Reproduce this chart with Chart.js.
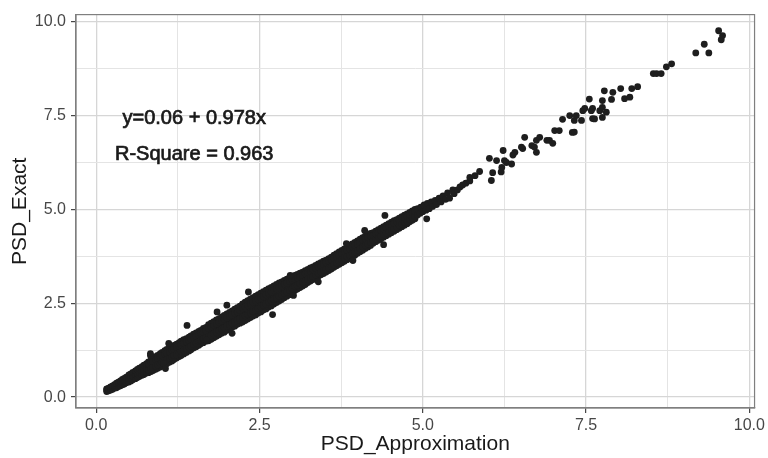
<!DOCTYPE html>
<html><head><meta charset="utf-8">
<script src="https://cdn.jsdelivr.net/npm/chart.js@4.4.1/dist/chart.umd.min.js"></script>
<style>html,body{margin:0;padding:0;background:#fff;}canvas{display:block;}</style>
</head><body>
<canvas id="c" width="768" height="458"></canvas>
<script>
// Dense band: approximation values with low / middle / high exact values
const bandX = [0.16,0.19,0.22,0.25,0.28,0.31,0.34,0.37,0.40,0.43,0.46,0.50,0.53,0.56,0.60,0.63,0.66,0.70,0.73,0.77,
0.80,0.84,0.87,0.91,0.94,0.98,1.01,1.05,1.08,1.12,1.16,1.19,
1.23,1.27,1.30,1.34,1.38,1.42,1.45,1.49,1.53,1.57,1.60,1.64,1.68,
1.72,1.76,1.80,1.84,1.88,1.92,1.96,2.00,2.04,2.08,2.12,2.16,2.20,
2.24,2.28,2.32,2.36,2.40,2.44,2.48,2.52,2.56,2.60,2.64,2.68,2.72,2.76,2.80,2.84,2.88,2.92,2.96,3.00,
3.04,3.08,3.12,3.16,3.20,3.24,3.28,3.32,3.36,3.40,3.44,3.48,3.52,3.56,3.60,
3.64,3.68,3.72,3.76,3.80,3.84,3.88,3.92,3.96,4.00,4.04,4.08,4.12,4.16,4.20,
4.24,4.28,4.32,4.36,4.40,4.44,4.48,4.52,4.56,4.60,4.64,4.68,4.72,4.76,4.80,4.84,4.88];
const bandLow = [0.15,0.17,0.19,0.21,0.24,0.25,0.28,0.30,0.33,0.35,0.38,0.40,0.43,0.46,0.49,0.52,0.55,0.58,0.60,0.64,
0.65,0.68,0.71,0.74,0.77,0.80,0.83,0.86,0.89,0.93,0.96,1.00,
1.04,1.08,1.11,1.15,1.19,1.23,1.26,1.31,1.34,1.38,1.42,1.45,1.49,
1.50,1.54,1.58,1.62,1.66,1.70,1.73,1.78,1.81,1.86,1.89,1.94,1.97,
2.00,2.04,2.08,2.12,2.16,2.19,2.24,2.27,2.32,2.35,2.40,2.43,2.48,2.52,2.56,2.60,2.65,2.69,2.73,2.78,
2.84,2.88,2.92,2.96,3.00,3.05,3.09,3.13,3.17,3.22,3.26,3.29,3.33,3.37,3.41,
3.46,3.50,3.54,3.58,3.62,3.66,3.70,3.74,3.78,3.83,3.87,3.91,3.96,4.00,4.04,
4.10,4.14,4.18,4.22,4.26,4.30,4.34,4.38,4.42,4.46,4.50,4.54,4.58,4.62,4.67,4.71,4.75];
const bandMid = [0.19,0.21,0.24,0.26,0.29,0.31,0.35,0.37,0.39,0.43,0.46,0.49,0.53,0.55,0.60,0.62,0.66,0.69,0.73,0.76,
0.80,0.83,0.88,0.90,0.95,0.97,1.02,1.04,1.09,1.11,1.17,1.18,
1.22,1.27,1.30,1.33,1.39,1.41,1.46,1.48,1.54,1.56,1.61,1.63,1.69,
1.72,1.75,1.81,1.83,1.89,1.91,1.97,1.99,2.05,2.07,2.13,2.15,2.21,
2.25,2.30,2.33,2.38,2.41,2.46,2.49,2.54,2.57,2.62,2.65,2.70,2.73,2.78,2.81,2.86,2.89,2.93,2.97,3.00,
3.04,3.07,3.11,3.15,3.19,3.22,3.27,3.30,3.34,3.38,3.42,3.45,3.50,3.53,3.57,
3.61,3.66,3.70,3.74,3.79,3.83,3.87,3.92,3.95,4.00,4.04,4.09,4.12,4.16,4.21,
4.24,4.28,4.33,4.36,4.40,4.44,4.48,4.52,4.56,4.60,4.63,4.67,4.72,4.75,4.80,4.84,4.87];
const bandHigh = [0.22,0.24,0.27,0.30,0.33,0.37,0.40,0.43,0.47,0.50,0.53,0.59,0.62,0.66,0.70,0.74,0.77,0.81,0.85,0.89,
0.94,0.99,1.03,1.08,1.11,1.16,1.19,1.24,1.27,1.31,1.34,1.38,
1.41,1.45,1.49,1.53,1.56,1.60,1.63,1.68,1.71,1.75,1.78,1.83,1.86,
1.93,1.97,2.01,2.06,2.09,2.14,2.18,2.22,2.26,2.30,2.34,2.38,2.42,
2.48,2.53,2.57,2.61,2.65,2.69,2.73,2.77,2.81,2.85,2.89,2.92,2.96,3.00,3.04,3.07,3.11,3.14,3.18,3.21,
3.24,3.27,3.30,3.33,3.37,3.40,3.44,3.47,3.51,3.55,3.58,3.62,3.65,3.69,3.73,
3.78,3.82,3.87,3.91,3.95,3.99,4.04,4.08,4.12,4.16,4.21,4.25,4.29,4.33,4.36,
4.38,4.42,4.46,4.50,4.54,4.58,4.62,4.66,4.70,4.73,4.77,4.81,4.85,4.88,4.92,4.96,5.00];
// Inner rows of the band, for approximation values from 0.80 on
const innerLow = [0.72,0.75,0.79,0.82,0.86,0.89,0.93,0.96,1.00,1.04,1.07,1.11,
1.13,1.18,1.21,1.25,1.29,1.33,1.36,1.40,1.44,1.48,1.51,1.55,1.59,
1.61,1.65,1.69,1.73,1.77,1.81,1.85,1.89,1.93,1.97,2.01,2.05,2.09,
2.12,2.17,2.20,2.24,2.28,2.32,2.36,2.40,2.44,2.48,2.52,2.56,2.60,2.64,2.68,2.72,2.76,2.80,2.84,2.88,
2.95,2.98,3.02,3.06,3.10,3.14,3.18,3.21,3.25,3.29,3.33,3.37,3.41,3.44,3.48,
3.53,3.57,3.62,3.66,3.70,3.74,3.78,3.83,3.87,3.91,3.95,4.00,4.04,4.08,4.12,
4.17,4.21,4.25,4.29,4.33,4.37,4.41,4.45,4.49,4.53,4.57,4.61,4.65,4.69,4.73,4.77,4.81];
const innerHigh = [0.88,0.92,0.95,0.99,1.03,1.06,1.10,1.14,1.17,1.20,1.25,1.28,
1.32,1.36,1.39,1.43,1.47,1.51,1.55,1.58,1.62,1.66,1.70,1.73,1.77,
1.83,1.87,1.91,1.95,2.00,2.03,2.07,2.11,2.15,2.19,2.23,2.27,2.31,
2.37,2.41,2.45,2.49,2.53,2.57,2.61,2.65,2.69,2.73,2.77,2.80,2.85,2.89,2.93,2.97,3.01,3.04,3.08,3.12,
3.13,3.17,3.20,3.24,3.28,3.31,3.35,3.39,3.43,3.47,3.50,3.54,3.58,3.62,3.65,
3.70,3.74,3.78,3.83,3.87,3.91,3.95,4.00,4.04,4.08,4.12,4.17,4.21,4.25,4.29,
4.31,4.35,4.39,4.43,4.47,4.51,4.55,4.59,4.63,4.67,4.70,4.74,4.78,4.82,4.86,4.90,4.94];
// Isolated points and edge bumps beside the band
const outlierX = [0.83,1.03,1.39,1.85,2.08,2.33,2.70,3.40,4.40,4.42,
5.06,2.00,0.83,1.11,3.83,4.11,2.97,1.06,1.69,3.02,3.93];
const outlierY = [1.11,0.90,1.91,2.27,1.70,2.80,2.20,3.07,4.06,4.84,
4.75,2.45,1.16,1.43,4.09,4.44,3.24,0.76,1.52,2.71,3.64];
// Sparse upper tail
const tailX = [4.92,4.92,4.96,4.97,5.00,5.02,5.05,5.07,5.10,5.13,5.15,5.19,5.21,5.25,5.28,5.31,5.35,5.38,5.41,5.46,
5.48,5.53,5.57,5.61,5.66,5.72,5.72,5.87,5.80,6.02,6.05,6.07,6.13,6.20,6.21,6.25,6.28,6.23,6.36,6.38,
6.41,6.51,6.53,6.56,6.67,6.71,6.74,6.74,6.79,6.90,6.94,6.99,7.02,7.09,7.14,7.29,7.32,7.25,7.32,7.35,
7.43,7.45,7.48,7.55,7.58,7.60,7.60,7.63,7.71,7.75,7.75,7.78,7.75,7.81,7.89,7.91,8.03,8.09,8.17,8.20,
8.29,8.53,8.58,8.65,8.73,8.81,9.18,9.38,9.31,9.57,9.59,9.53];
const tailY = [4.85,5.02,4.90,5.06,4.94,5.12,4.98,5.16,5.02,5.20,5.08,5.24,5.13,5.30,5.20,5.36,5.27,5.44,5.30,5.52,
5.42,5.52,5.60,5.65,5.70,5.76,5.85,6.01,5.90,6.36,5.77,5.98,6.30,6.00,6.12,6.30,6.25,6.57,6.21,6.45,
6.52,6.66,6.62,6.92,6.70,6.66,6.84,6.52,6.92,6.84,6.84,6.76,7.10,7.10,7.40,7.05,7.06,7.50,7.37,7.50,
7.37,7.63,7.69,7.94,7.63,7.69,7.42,7.41,7.63,7.45,7.72,8.16,7.90,7.59,7.93,8.12,8.22,7.95,7.99,8.22,
8.27,8.62,8.62,8.62,8.80,8.88,9.17,9.17,9.40,9.52,9.63,9.76];

const majorTicks = [0, 2.5, 5, 7.5, 10];
const tickLabels = ['0.0', '2.5', '5.0', '7.5', '10.0'];
const minorTicks = [1.25, 3.75, 6.25, 8.75];
const annotationLines = ['y=0.06 + 0.978x', 'R-Square = 0.963'];
const annotationX = [1.5, 1.5];
const annotationY = [7.43, 6.46];

const points = [];
bandX.forEach((x, i) => { points.push({x, y: bandLow[i]}, {x, y: bandMid[i]}, {x, y: bandHigh[i]}); });
bandX.slice(20).forEach((x, i) => { points.push({x, y: innerLow[i]}, {x, y: innerHigh[i]}); });
outlierX.forEach((x, i) => points.push({x, y: outlierY[i]}));
tailX.forEach((x, i) => points.push({x, y: tailY[i]}));

const allTicks = majorTicks.concat(minorTicks).sort((a, b) => a - b);
const isMajor = v => majorTicks.some(m => Math.abs(m - v) < 1e-9);
const labelFor = v => { const i = majorTicks.findIndex(m => Math.abs(m - v) < 1e-9); return i >= 0 ? tickLabels[i] : ''; };
const FONT = "'Liberation Sans', Arial, Helvetica, sans-serif";

function axis(min, max, title, isY) {
  return {
    type: 'linear', min, max, position: isY ? 'left' : 'bottom',
    afterBuildTicks: s => { s.ticks = allTicks.map(v => ({value: v})); },
    afterFit: s => { if (isY) s.width = 76; else s.height = 50; },
    ticks: {autoSkip: false, maxRotation: 0, padding: isY ? 5 : 3, color: '#474747',
      font: {family: FONT, size: 16}, callback: v => labelFor(v)},
    grid: {
      color: c => isMajor(c.tick.value) ? '#d6d6d6' : '#e4e4e4',
      lineWidth: c => isMajor(c.tick.value) ? 1.3 : 1.0,
      tickColor: c => isMajor(c.tick.value) ? '#333333' : 'rgba(0,0,0,0)',
      tickLength: 5, tickWidth: 1.1
    },
    border: {display: true, color: '#7f7f7f', width: 1.2},
    title: {display: true, text: title, color: '#1a1a1a', font: {family: FONT, size: 21},
      padding: isY ? {top: 8, bottom: 0} : {top: 0, bottom: 1}}
  };
}

const framePlugin = {
  id: 'frame',
  afterDatasetsDraw(chart) {
    const {ctx, chartArea: a, scales} = chart;
    ctx.save();
    ctx.strokeStyle = '#7f7f7f'; ctx.lineWidth = 1.2;
    ctx.strokeRect(a.left, a.top, a.right - a.left, a.bottom - a.top);
    ctx.fillStyle = '#1a1a1a'; ctx.strokeStyle = '#1a1a1a'; ctx.lineWidth = 0.7;
    ctx.font = '20px ' + FONT; ctx.textAlign = 'center'; ctx.textBaseline = 'middle';
    annotationLines.forEach((t, i) => {
      const px = scales.x.getPixelForValue(annotationX[i]);
      const py = scales.y.getPixelForValue(annotationY[i]);
      ctx.fillText(t, px, py); ctx.strokeText(t, px, py);
    });
    ctx.restore();
  }
};

new Chart(document.getElementById('c'), {
  type: 'scatter',
  data: {datasets: [{data: points, pointRadius: 3.4, pointHoverRadius: 3.4,
    backgroundColor: '#1e1e1e', borderColor: '#1e1e1e', pointBorderWidth: 0}]},
  options: {
    responsive: false, animation: false, devicePixelRatio: 1,
    layout: {padding: {top: 14, right: 13, left: 0, bottom: 0}},
    plugins: {legend: {display: false}, tooltip: {enabled: false}},
    scales: {
      x: axis(-0.31, 10.08, 'PSD_Approximation', false),
      y: axis(-0.29, 10.19, 'PSD_Exact', true)
    }
  },
  plugins: [framePlugin]
});
</script>
</body></html>
